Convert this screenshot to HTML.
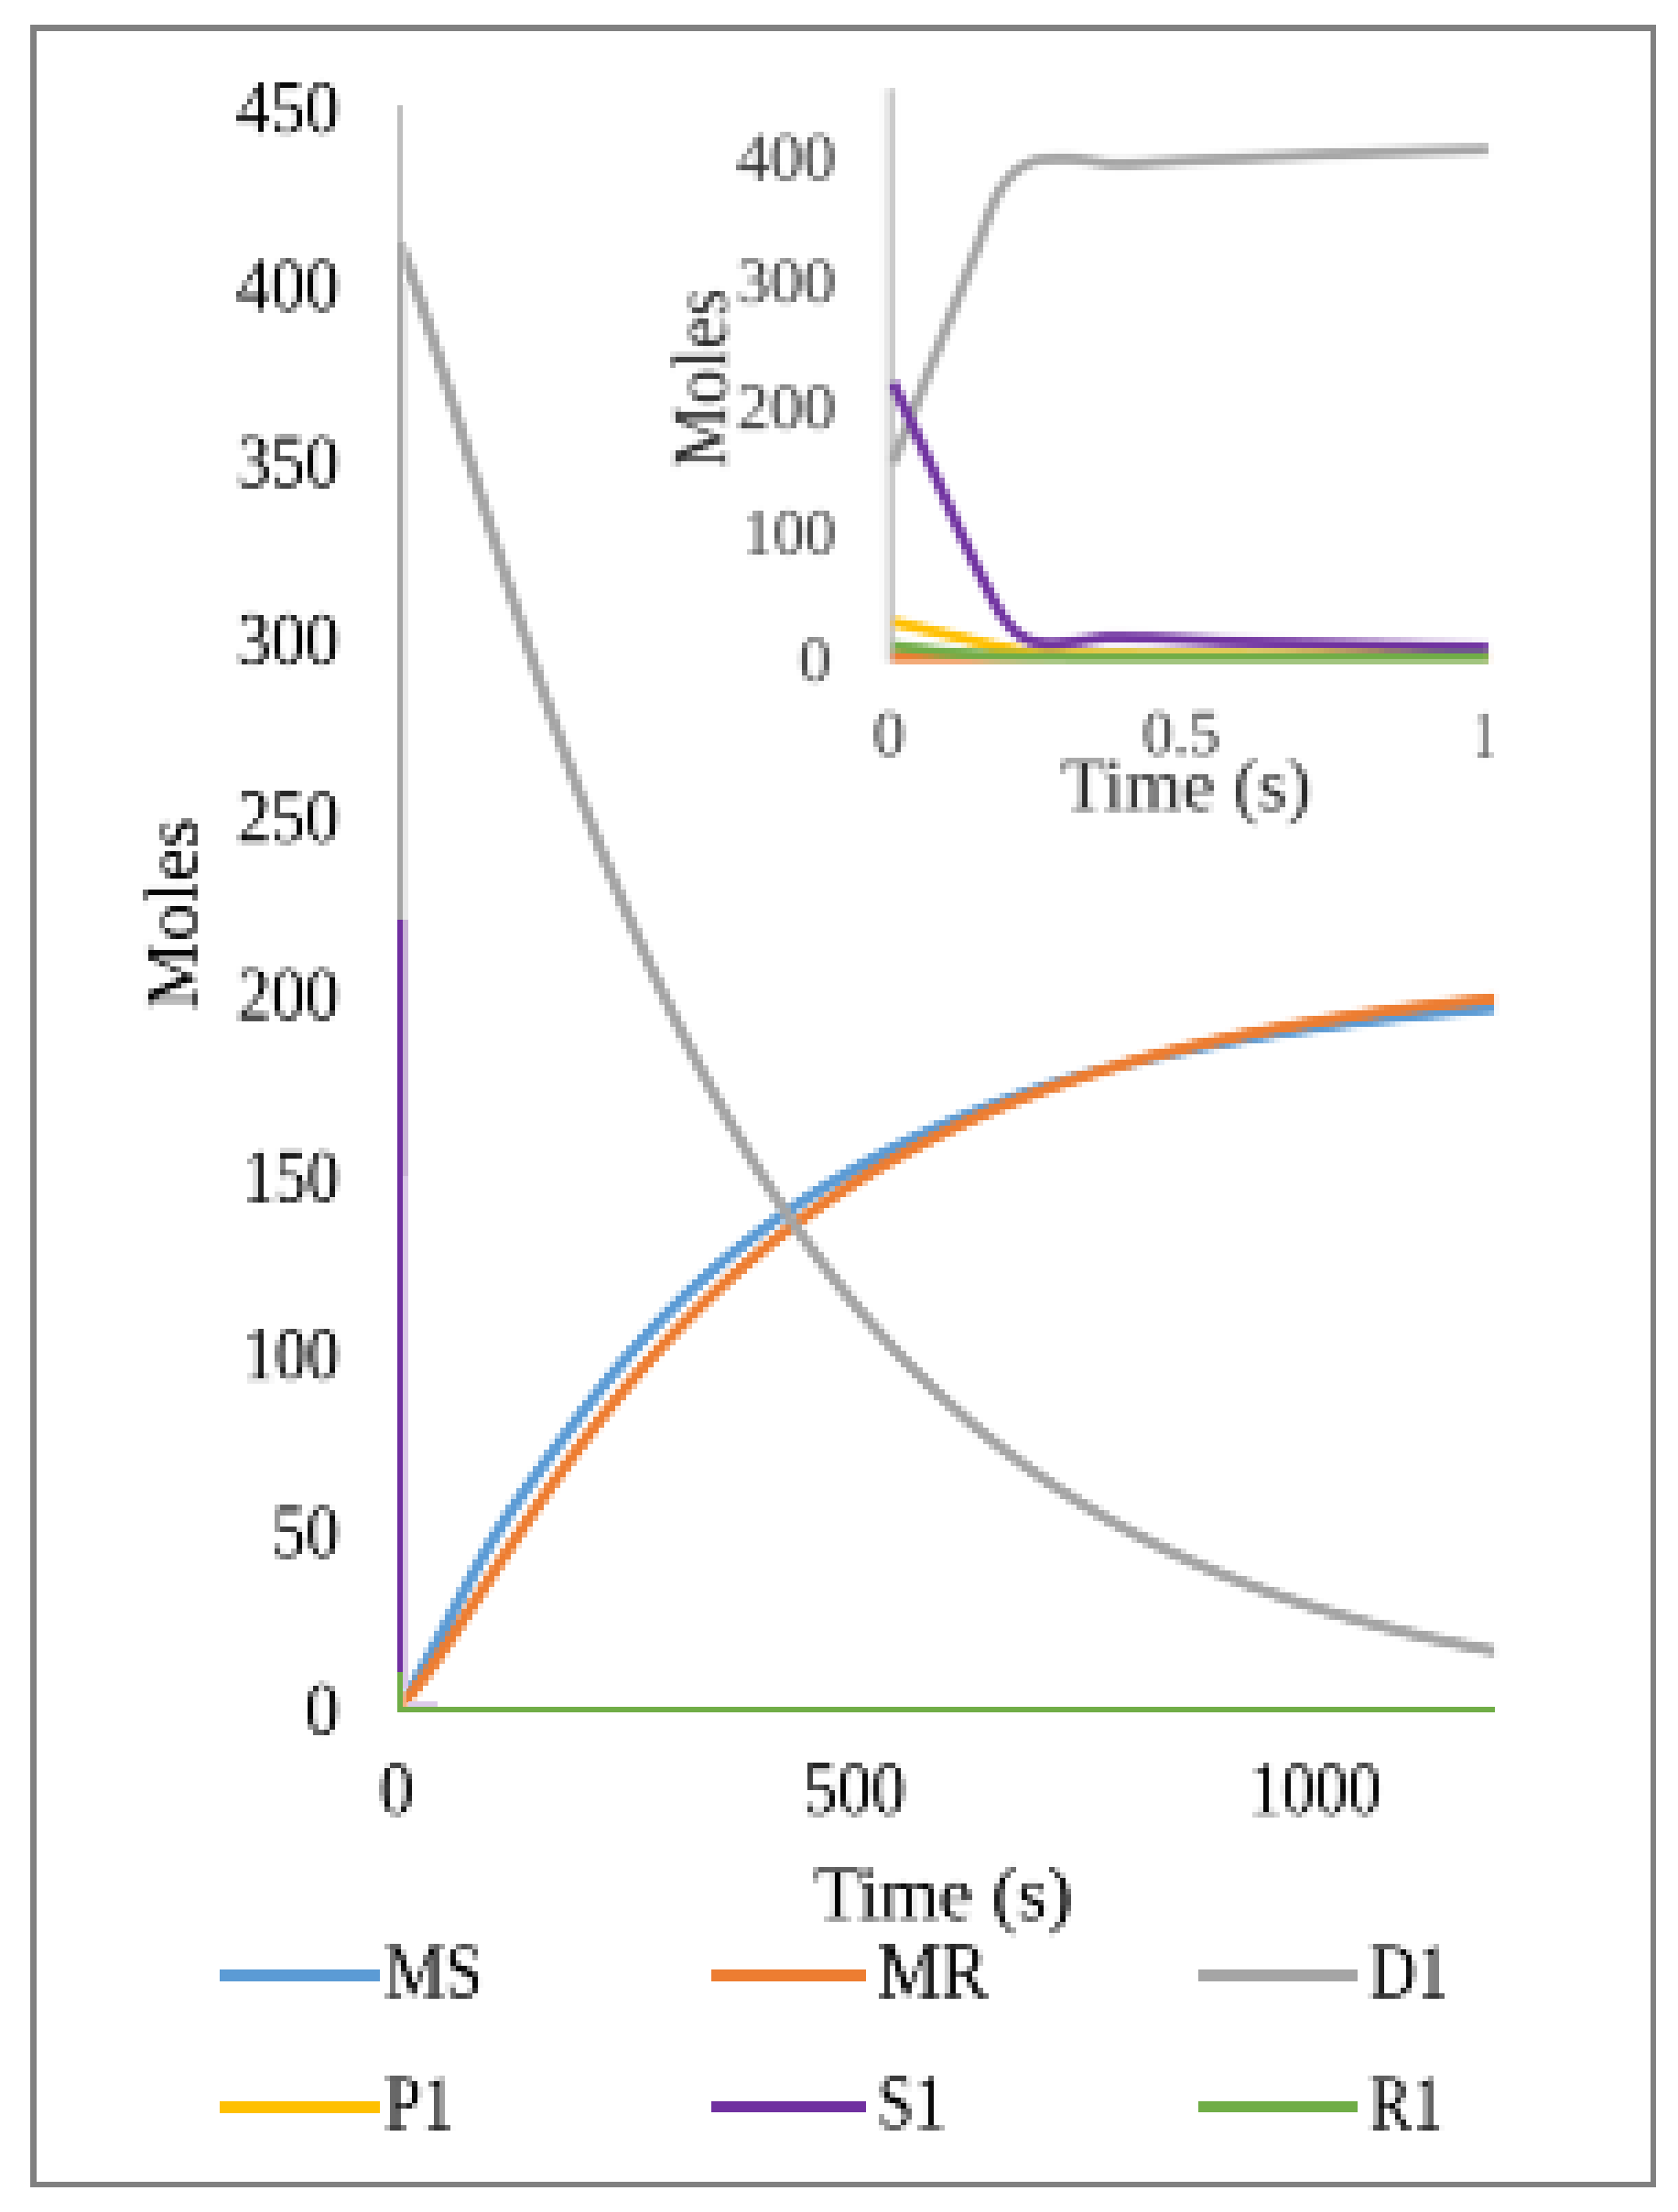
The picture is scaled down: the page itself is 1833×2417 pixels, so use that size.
<!DOCTYPE html>
<html lang="en"><head><meta charset="utf-8"><title>Moles vs Time</title>
<style>html,body{margin:0;padding:0;background:#fff}svg{display:block}</style></head>
<body>
<svg width="1833" height="2417" viewBox="0 0 1833 2417" font-family="'Liberation Serif', 'Times New Roman', serif">
<defs>
<filter id="b" x="-5%" y="-5%" width="110%" height="110%"><feGaussianBlur stdDeviation="1.0"/></filter>
<filter id="px" x="0" y="0" width="1833" height="2417" filterUnits="userSpaceOnUse" primitiveUnits="userSpaceOnUse" color-interpolation-filters="sRGB">
<feGaussianBlur in="SourceGraphic" stdDeviation="1.7" result="bl"/>
<feFlood x="3" y="3" width="1" height="1" flood-color="#000" result="dot"/>
<feComposite in="dot" in2="dot" operator="over" x="0" y="0" width="6" height="6" result="cell"/>
<feTile in="cell" x="0" y="0" width="1833" height="2417" result="grid"/>
<feComposite in="bl" in2="grid" operator="in" result="s0"/>
<feConvolveMatrix in="s0" order="6 1" kernelMatrix="1 1 1 1 1 1" divisor="1" targetX="2" targetY="0" edgeMode="none" preserveAlpha="false" result="h"/>
<feConvolveMatrix in="h" order="1 6" kernelMatrix="1 1 1 1 1 1" divisor="1" targetX="0" targetY="2" edgeMode="none" preserveAlpha="false"/>
</filter>
<clipPath id="cp"><rect x="441" y="100" width="1192.4" height="1775"/></clipPath>
</defs>
<rect width="1833" height="2417" fill="#fff"/>
<g id="c">
<rect width="1833" height="2417" fill="#fff"/>
<g fill="none" stroke-linejoin="round" clip-path="url(#cp)">
<path d="M439.0 1862.6 L446.5 1850.7 L454.0 1838.1 L461.6 1825.0 L469.1 1811.4 L476.6 1797.5 L484.1 1783.3 L491.7 1769.0 L499.2 1754.6 L506.7 1740.3 L514.2 1726.2 L521.8 1712.4 L529.3 1699.0 L536.8 1686.2 L544.3 1673.8 L551.9 1661.9 L559.4 1650.5 L566.9 1639.4 L574.4 1628.6 L582.0 1618.1 L589.5 1607.6 L597.0 1597.2 L604.5 1586.9 L612.1 1576.6 L619.6 1566.5 L627.1 1556.4 L634.6 1546.4 L642.2 1536.6 L649.7 1527.0 L657.2 1517.5 L664.7 1508.2 L672.3 1499.0 L679.8 1490.1 L687.3 1481.3 L694.8 1472.8 L702.4 1464.4 L709.9 1456.2 L717.4 1448.2 L724.9 1440.3 L732.5 1432.6 L740.0 1425.1 L747.5 1417.8 L755.0 1410.6 L762.6 1403.5 L770.1 1396.6 L777.6 1389.9 L785.1 1383.3 L792.7 1376.8 L800.2 1370.5 L807.7 1364.3 L815.2 1358.3 L822.8 1352.3 L830.3 1346.5 L837.8 1340.9 L845.3 1335.3 L852.8 1329.9 L860.4 1324.6 L867.9 1319.3 L875.4 1314.2 L882.9 1309.3 L890.5 1304.4 L898.0 1299.6 L905.5 1294.9 L913.0 1290.3 L920.6 1285.8 L928.1 1281.4 L935.6 1277.1 L943.1 1272.9 L950.7 1268.8 L958.2 1264.7 L965.7 1260.8 L973.2 1256.9 L980.8 1253.1 L988.3 1249.4 L995.8 1245.7 L1003.3 1242.2 L1010.9 1238.7 L1018.4 1235.3 L1025.9 1231.9 L1033.4 1228.6 L1041.0 1225.4 L1048.5 1222.3 L1056.0 1219.2 L1063.5 1216.2 L1071.1 1213.2 L1078.6 1210.3 L1086.1 1207.5 L1093.6 1204.7 L1101.2 1202.0 L1108.7 1199.3 L1116.2 1196.7 L1123.7 1194.2 L1131.3 1191.7 L1138.8 1189.2 L1146.3 1186.8 L1153.8 1184.4 L1161.4 1182.1 L1168.9 1179.9 L1176.4 1177.7 L1183.9 1175.5 L1191.5 1173.4 L1199.0 1171.3 L1206.5 1169.3 L1214.0 1167.3 L1221.6 1165.3 L1229.1 1163.4 L1236.6 1161.5 L1244.1 1159.7 L1251.6 1157.9 L1259.2 1156.1 L1266.7 1154.4 L1274.2 1152.7 L1281.7 1151.0 L1289.3 1149.4 L1296.8 1147.8 L1304.3 1146.3 L1311.8 1144.7 L1319.4 1143.2 L1326.9 1141.8 L1334.4 1140.3 L1341.9 1138.9 L1349.5 1137.6 L1357.0 1136.2 L1364.5 1134.9 L1372.0 1133.6 L1379.6 1132.3 L1387.1 1131.1 L1394.6 1129.9 L1402.1 1128.7 L1409.7 1127.5 L1417.2 1126.4 L1424.7 1125.3 L1432.2 1124.2 L1439.8 1123.1 L1447.3 1122.0 L1454.8 1121.0 L1462.3 1120.0 L1469.9 1119.0 L1477.4 1118.1 L1484.9 1117.1 L1492.4 1116.2 L1500.0 1115.3 L1507.5 1114.4 L1515.0 1113.5 L1522.5 1112.7 L1530.1 1111.8 L1537.6 1111.0 L1545.1 1110.2 L1552.6 1109.4 L1560.2 1108.7 L1567.7 1107.9 L1575.2 1107.2 L1582.7 1106.5 L1590.3 1105.8 L1597.8 1105.1 L1605.3 1104.4 L1612.8 1103.7 L1620.4 1103.1 L1627.9 1102.4 L1635.4 1101.8" stroke="#5b9bd5" stroke-width="12.5"/>
<path d="M439.0 1863.1 L446.5 1854.8 L454.0 1845.7 L461.6 1836.0 L469.1 1825.8 L476.6 1815.1 L484.1 1804.1 L491.7 1792.9 L499.2 1781.4 L506.7 1769.9 L514.2 1758.2 L521.8 1746.5 L529.3 1734.8 L536.8 1723.1 L544.3 1711.4 L551.9 1699.8 L559.4 1688.3 L566.9 1676.8 L574.4 1665.5 L582.0 1654.3 L589.5 1643.2 L597.0 1632.3 L604.5 1621.5 L612.1 1610.9 L619.6 1600.4 L627.1 1590.0 L634.6 1579.9 L642.2 1569.8 L649.7 1560.0 L657.2 1550.3 L664.7 1540.7 L672.3 1531.3 L679.8 1522.1 L687.3 1513.1 L694.8 1504.2 L702.4 1495.4 L709.9 1486.8 L717.4 1478.4 L724.9 1470.1 L732.5 1462.0 L740.0 1454.0 L747.5 1446.2 L755.0 1438.5 L762.6 1430.9 L770.1 1423.5 L777.6 1416.2 L785.1 1409.1 L792.7 1402.1 L800.2 1395.2 L807.7 1388.5 L815.2 1381.9 L822.8 1375.4 L830.3 1369.1 L837.8 1362.8 L845.3 1356.7 L852.8 1350.7 L860.4 1344.8 L867.9 1339.1 L875.4 1333.4 L882.9 1327.9 L890.5 1322.4 L898.0 1317.1 L905.5 1311.9 L913.0 1306.8 L920.6 1301.8 L928.1 1296.8 L935.6 1292.0 L943.1 1287.3 L950.7 1282.6 L958.2 1278.1 L965.7 1273.6 L973.2 1269.3 L980.8 1265.0 L988.3 1260.8 L995.8 1256.7 L1003.3 1252.7 L1010.9 1248.7 L1018.4 1244.8 L1025.9 1241.0 L1033.4 1237.3 L1041.0 1233.7 L1048.5 1230.1 L1056.0 1226.6 L1063.5 1223.2 L1071.1 1219.8 L1078.6 1216.5 L1086.1 1213.3 L1093.6 1210.1 L1101.2 1207.0 L1108.7 1204.0 L1116.2 1201.0 L1123.7 1198.1 L1131.3 1195.3 L1138.8 1192.5 L1146.3 1189.7 L1153.8 1187.0 L1161.4 1184.4 L1168.9 1181.8 L1176.4 1179.3 L1183.9 1176.8 L1191.5 1174.4 L1199.0 1172.0 L1206.5 1169.7 L1214.0 1167.4 L1221.6 1165.1 L1229.1 1162.9 L1236.6 1160.8 L1244.1 1158.7 L1251.6 1156.6 L1259.2 1154.6 L1266.7 1152.6 L1274.2 1150.7 L1281.7 1148.8 L1289.3 1146.9 L1296.8 1145.1 L1304.3 1143.3 L1311.8 1141.5 L1319.4 1139.8 L1326.9 1138.1 L1334.4 1136.5 L1341.9 1134.9 L1349.5 1133.3 L1357.0 1131.7 L1364.5 1130.2 L1372.0 1128.7 L1379.6 1127.3 L1387.1 1125.8 L1394.6 1124.4 L1402.1 1123.0 L1409.7 1121.7 L1417.2 1120.4 L1424.7 1119.1 L1432.2 1117.8 L1439.8 1116.6 L1447.3 1115.3 L1454.8 1114.2 L1462.3 1113.0 L1469.9 1111.8 L1477.4 1110.7 L1484.9 1109.6 L1492.4 1108.5 L1500.0 1107.5 L1507.5 1106.4 L1515.0 1105.4 L1522.5 1104.4 L1530.1 1103.4 L1537.6 1102.5 L1545.1 1101.5 L1552.6 1100.6 L1560.2 1099.7 L1567.7 1098.8 L1575.2 1098.0 L1582.7 1097.1 L1590.3 1096.3 L1597.8 1095.5 L1605.3 1094.7 L1612.8 1093.9 L1620.4 1093.1 L1627.9 1092.4 L1635.4 1091.6" stroke="#ed7d31" stroke-width="12.5"/>
<path d="M439 271.4 L438.5 269.4 L446.0 289.4 L453.5 310.7 L461.1 333.0 L468.6 356.1 L476.1 379.9 L483.6 404.1 L491.2 428.6 L498.7 453.3 L506.2 478.2 L513.7 503.1 L521.3 527.9 L528.8 552.6 L536.3 577.1 L543.8 601.4 L551.4 625.5 L558.9 649.3 L566.4 672.8 L573.9 696.0 L581.5 718.9 L589.0 741.5 L596.5 763.6 L604.0 785.4 L611.6 806.9 L619.1 828.0 L626.6 848.7 L634.1 869.1 L641.7 889.0 L649.2 908.6 L656.7 927.9 L664.2 946.8 L671.8 965.3 L679.3 983.5 L686.8 1001.3 L694.3 1018.8 L701.9 1035.9 L709.4 1052.7 L716.9 1069.2 L724.4 1085.3 L732.0 1101.1 L739.5 1116.7 L747.0 1131.9 L754.5 1146.8 L762.1 1161.4 L769.6 1175.7 L777.1 1189.7 L784.6 1203.4 L792.2 1216.9 L799.7 1230.1 L807.2 1243.0 L814.7 1255.7 L822.3 1268.1 L829.8 1280.3 L837.3 1292.2 L844.8 1303.9 L852.3 1315.3 L859.9 1326.5 L867.4 1337.5 L874.9 1348.3 L882.4 1358.8 L890.0 1369.2 L897.5 1379.3 L905.0 1389.2 L912.5 1398.9 L920.1 1408.5 L927.6 1417.8 L935.1 1426.9 L942.6 1435.9 L950.2 1444.7 L957.7 1453.3 L965.2 1461.7 L972.7 1470.0 L980.3 1478.1 L987.8 1486.0 L995.3 1493.8 L1002.8 1501.4 L1010.4 1508.8 L1017.9 1516.1 L1025.4 1523.3 L1032.9 1530.3 L1040.5 1537.2 L1048.0 1543.9 L1055.5 1550.5 L1063.0 1557.0 L1070.6 1563.3 L1078.1 1569.5 L1085.6 1575.6 L1093.1 1581.6 L1100.7 1587.4 L1108.2 1593.1 L1115.7 1598.7 L1123.2 1604.2 L1130.8 1609.6 L1138.3 1614.9 L1145.8 1620.0 L1153.3 1625.1 L1160.9 1630.1 L1168.4 1634.9 L1175.9 1639.7 L1183.4 1644.3 L1191.0 1648.9 L1198.5 1653.4 L1206.0 1657.8 L1213.5 1662.1 L1221.1 1666.3 L1228.6 1670.4 L1236.1 1674.5 L1243.6 1678.5 L1251.1 1682.3 L1258.7 1686.2 L1266.2 1689.9 L1273.7 1693.5 L1281.2 1697.1 L1288.8 1700.6 L1296.3 1704.1 L1303.8 1707.5 L1311.3 1710.8 L1318.9 1714.0 L1326.4 1717.2 L1333.9 1720.3 L1341.4 1723.3 L1349.0 1726.3 L1356.5 1729.2 L1364.0 1732.1 L1371.5 1734.9 L1379.1 1737.7 L1386.6 1740.4 L1394.1 1743.0 L1401.6 1745.6 L1409.2 1748.2 L1416.7 1750.7 L1424.2 1753.1 L1431.7 1755.5 L1439.3 1757.8 L1446.8 1760.1 L1454.3 1762.4 L1461.8 1764.6 L1469.4 1766.7 L1476.9 1768.9 L1484.4 1770.9 L1491.9 1773.0 L1499.5 1775.0 L1507.0 1776.9 L1514.5 1778.9 L1522.0 1780.7 L1529.6 1782.6 L1537.1 1784.4 L1544.6 1786.2 L1552.1 1787.9 L1559.7 1789.6 L1567.2 1791.3 L1574.7 1792.9 L1582.2 1794.5 L1589.8 1796.1 L1597.3 1797.6 L1604.8 1799.1 L1612.3 1800.6 L1619.9 1802.0 L1627.4 1803.5 L1634.9 1804.9" stroke="#a5a5a5" stroke-width="12.5"/>
</g>
<text transform="matrix(0.7513 0 0 0.8296 258.60 144.97)" font-size="100" fill="#000">450</text>
<text transform="matrix(0.7513 0 0 0.8296 258.60 338.67)" font-size="100" fill="#000">400</text>
<text transform="matrix(0.7487 0 0 0.8296 259.00 532.47)" font-size="100" fill="#000">350</text>
<text transform="matrix(0.7487 0 0 0.8296 259.00 725.97)" font-size="100" fill="#000">300</text>
<text transform="matrix(0.7487 0 0 0.8296 259.00 919.67)" font-size="100" fill="#000">250</text>
<text transform="matrix(0.7487 0 0 0.8296 259.00 1113.67)" font-size="100" fill="#000">200</text>
<text transform="matrix(0.7053 0 0 0.8296 265.50 1313.47)" font-size="100" fill="#000">150</text>
<text transform="matrix(0.7053 0 0 0.8296 265.50 1507.17)" font-size="100" fill="#000">100</text>
<text transform="matrix(0.7330 0 0 0.8296 298.00 1700.87)" font-size="100" fill="#000">50</text>
<text transform="matrix(0.7520 0 0 0.8296 333.70 1895.07)" font-size="100" fill="#000">0</text>
<text transform="matrix(0.7520 0 0 0.8296 415.00 1982.17)" font-size="100" fill="#000">0</text>
<text transform="matrix(0.7487 0 0 0.8296 877.70 1982.17)" font-size="100" fill="#000">500</text>
<text transform="matrix(0.7220 0 0 0.8296 1364.60 1982.17)" font-size="100" fill="#000">1000</text>
<text transform="matrix(0.8349 0 0 0.8275 889.90 2097.11)" font-size="100" fill="#000">Time (s)</text>
<text transform="matrix(0 -0.8400 0.7986 0 214.50 1104.00)" font-size="100" fill="#000">Moles</text>
<text transform="matrix(0.7363 0 0 0.8401 421.10 2182.66)" font-size="100" fill="#000">MS</text>
<text transform="matrix(0.7769 0 0 0.8565 959.00 2183.30)" font-size="100" fill="#000">MR</text>
<text transform="matrix(0.7108 0 0 0.8423 1496.50 2183.09)" font-size="100" fill="#000">D1</text>
<text transform="matrix(0.7194 0 0 0.8530 421.10 2327.10)" font-size="100" fill="#000">P1</text>
<text transform="matrix(0.7118 0 0 0.8416 959.00 2326.36)" font-size="100" fill="#000">S1</text>
<text transform="matrix(0.6921 0 0 0.8394 1496.50 2327.00)" font-size="100" fill="#000">R1</text>
<g filter="url(#b)">
<line x1="974.5" y1="98" x2="974.5" y2="724" stroke="#c3c3c3" stroke-width="6.3"/>
<line x1="968.2" y1="98" x2="968.2" y2="724" stroke="#ebebeb" stroke-width="6.3"/>
<g fill="none" stroke-linejoin="round">
<path d="M975 718.5 L1627 718.5" stroke="#ed7d31" stroke-width="11.5"/>
<path d="M975.8 506.7 L981.3 492.8 L986.7 478.9 L992.2 465.0 L997.7 451.1 L1003.1 437.2 L1008.6 423.3 L1014.0 409.4 L1019.5 395.5 L1025.0 381.6 L1030.4 367.6 L1035.9 353.7 L1041.4 339.7 L1046.8 325.8 L1052.3 311.8 L1057.8 297.8 L1063.2 283.8 L1068.7 269.5 L1074.1 253.9 L1079.6 238.3 L1085.1 224.0 L1090.5 212.2 L1096.0 203.6 L1101.5 196.4 L1106.9 190.4 L1112.4 185.7 L1117.9 182.0 L1123.3 179.2 L1128.8 177.1 L1134.3 175.5 L1139.7 174.9 L1145.2 174.5 L1150.6 174.3 L1156.1 174.1 L1161.6 174.0 L1167.0 174.0 L1172.5 174.3 L1178.0 174.7 L1183.4 175.4 L1188.9 176.1 L1194.4 176.9 L1199.8 177.7 L1205.3 178.4 L1210.7 179.0 L1216.2 179.4 L1221.7 179.5 L1227.1 179.5 L1232.6 179.4 L1238.1 179.2 L1243.5 179.0 L1249.0 178.7 L1254.5 178.4 L1259.9 178.1 L1265.4 177.8 L1270.8 177.5 L1276.3 177.2 L1281.8 176.9 L1287.2 176.6 L1292.7 176.4 L1298.2 176.1 L1303.6 175.9 L1309.1 175.6 L1314.6 175.4 L1320.0 175.1 L1325.5 174.9 L1331.0 174.6 L1336.4 174.4 L1341.9 174.1 L1347.3 173.9 L1352.8 173.6 L1358.3 173.4 L1363.7 173.1 L1369.2 172.9 L1374.7 172.6 L1380.1 172.4 L1385.6 172.1 L1391.1 171.9 L1396.5 171.6 L1402.0 171.4 L1407.4 171.2 L1412.9 170.9 L1418.4 170.7 L1423.8 170.5 L1429.3 170.2 L1434.8 170.0 L1440.2 169.8 L1445.7 169.6 L1451.2 169.3 L1456.6 169.1 L1462.1 168.9 L1467.5 168.7 L1473.0 168.5 L1478.5 168.3 L1483.9 168.1 L1489.4 167.9 L1494.9 167.7 L1500.3 167.5 L1505.8 167.3 L1511.3 167.1 L1516.7 167.0 L1522.2 166.8 L1527.7 166.6 L1533.1 166.4 L1538.6 166.3 L1544.0 166.1 L1549.5 165.9 L1555.0 165.8 L1560.4 165.6 L1565.9 165.5 L1571.4 165.3 L1576.8 165.2 L1582.3 165.0 L1587.8 164.9 L1593.2 164.8 L1598.7 164.6 L1604.1 164.5 L1609.6 164.4 L1615.1 164.2 L1620.5 164.1 L1626.0 164.0" stroke="#a5a5a5" stroke-width="11.5"/>
<path d="M975.8 680.0 L981.3 681.3 L986.7 682.6 L992.2 683.8 L997.7 685.1 L1003.1 686.4 L1008.6 687.7 L1014.0 688.9 L1019.5 690.2 L1025.0 691.5 L1030.4 692.8 L1035.9 694.0 L1041.4 695.3 L1046.8 696.6 L1052.3 697.9 L1057.8 699.3 L1063.2 700.6 L1068.7 702.0 L1074.1 703.3 L1079.6 704.6 L1085.1 705.8 L1090.5 707.1 L1096.0 708.2 L1101.5 709.3 L1106.9 710.5 L1112.4 711.7 L1117.9 712.9 L1123.3 713.9 L1128.8 714.6 L1134.3 715.0 L1139.7 715.1 L1145.2 715.1 L1150.6 715.2 L1156.1 715.3 L1161.6 715.3 L1167.0 715.4 L1172.5 715.4 L1178.0 715.5 L1183.4 715.5 L1188.9 715.6 L1194.4 715.6 L1199.8 715.7 L1205.3 715.7 L1210.7 715.7 L1216.2 715.7 L1221.7 715.8 L1227.1 715.8 L1232.6 715.8 L1238.1 715.8 L1243.5 715.9 L1249.0 715.9 L1254.5 715.9 L1259.9 715.9 L1265.4 715.9 L1270.8 715.9 L1276.3 715.9 L1281.8 716.0 L1287.2 716.0 L1292.7 716.0 L1298.2 716.0 L1303.6 716.0 L1309.1 716.0 L1314.6 716.0 L1320.0 716.1 L1325.5 716.1 L1331.0 716.1 L1336.4 716.1 L1341.9 716.1 L1347.3 716.1 L1352.8 716.1 L1358.3 716.1 L1363.7 716.2 L1369.2 716.2 L1374.7 716.2 L1380.1 716.2 L1385.6 716.2 L1391.1 716.2 L1396.5 716.2 L1402.0 716.2 L1407.4 716.3 L1412.9 716.3 L1418.4 716.3 L1423.8 716.3 L1429.3 716.3 L1434.8 716.3 L1440.2 716.3 L1445.7 716.3 L1451.2 716.3 L1456.6 716.3 L1462.1 716.4 L1467.5 716.4 L1473.0 716.4 L1478.5 716.4 L1483.9 716.4 L1489.4 716.4 L1494.9 716.4 L1500.3 716.4 L1505.8 716.4 L1511.3 716.4 L1516.7 716.4 L1522.2 716.4 L1527.7 716.4 L1533.1 716.5 L1538.6 716.5 L1544.0 716.5 L1549.5 716.5 L1555.0 716.5 L1560.4 716.5 L1565.9 716.5 L1571.4 716.5 L1576.8 716.5 L1582.3 716.5 L1587.8 716.5 L1593.2 716.5 L1598.7 716.5 L1604.1 716.5 L1609.6 716.5 L1615.1 716.5 L1620.5 716.5 L1626.0 716.5" stroke="#ffc000" stroke-width="11.5"/>
<path d="M975.8 418.5 L981.3 430.4 L986.7 442.2 L992.2 454.1 L997.7 466.0 L1003.1 477.9 L1008.6 489.9 L1014.0 501.9 L1019.5 514.2 L1025.0 526.5 L1030.4 539.0 L1035.9 551.5 L1041.4 563.9 L1046.8 576.2 L1052.3 588.3 L1057.8 600.2 L1063.2 611.8 L1068.7 623.1 L1074.1 633.9 L1079.6 644.7 L1085.1 655.4 L1090.5 665.5 L1096.0 674.5 L1101.5 681.8 L1106.9 688.1 L1112.4 693.2 L1117.9 696.7 L1123.3 699.6 L1128.8 701.6 L1134.3 702.7 L1139.7 703.5 L1145.2 704.0 L1150.6 703.9 L1156.1 703.7 L1161.6 703.3 L1167.0 702.8 L1172.5 702.1 L1178.0 701.3 L1183.4 700.4 L1188.9 699.6 L1194.4 698.9 L1199.8 698.2 L1205.3 697.5 L1210.7 697.1 L1216.2 697.0 L1221.7 697.0 L1227.1 697.1 L1232.6 697.2 L1238.1 697.3 L1243.5 697.4 L1249.0 697.5 L1254.5 697.6 L1259.9 697.8 L1265.4 698.0 L1270.8 698.2 L1276.3 698.4 L1281.8 698.7 L1287.2 698.9 L1292.7 699.2 L1298.2 699.4 L1303.6 699.7 L1309.1 699.9 L1314.6 700.2 L1320.0 700.5 L1325.5 700.8 L1331.0 701.1 L1336.4 701.4 L1341.9 701.6 L1347.3 701.8 L1352.8 701.9 L1358.3 702.1 L1363.7 702.3 L1369.2 702.5 L1374.7 702.6 L1380.1 702.8 L1385.6 702.9 L1391.1 703.1 L1396.5 703.2 L1402.0 703.3 L1407.4 703.5 L1412.9 703.6 L1418.4 703.7 L1423.8 703.9 L1429.3 704.0 L1434.8 704.1 L1440.2 704.2 L1445.7 704.3 L1451.2 704.5 L1456.6 704.6 L1462.1 704.7 L1467.5 704.8 L1473.0 704.9 L1478.5 705.0 L1483.9 705.2 L1489.4 705.3 L1494.9 705.4 L1500.3 705.5 L1505.8 705.6 L1511.3 705.7 L1516.7 705.9 L1522.2 706.0 L1527.7 706.1 L1533.1 706.2 L1538.6 706.3 L1544.0 706.4 L1549.5 706.5 L1555.0 706.7 L1560.4 706.8 L1565.9 706.9 L1571.4 707.0 L1576.8 707.1 L1582.3 707.2 L1587.8 707.3 L1593.2 707.4 L1598.7 707.5 L1604.1 707.6 L1609.6 707.7 L1615.1 707.8 L1620.5 707.9 L1626.0 708.0" stroke="#7030a0" stroke-width="11.5"/>
<path d="M975.8 706.0 L981.3 706.8 L986.7 707.6 L992.2 708.3 L997.7 709.0 L1003.1 709.7 L1008.6 710.3 L1014.0 711.0 L1019.5 711.6 L1025.0 712.2 L1030.4 712.7 L1035.9 713.3 L1041.4 713.8 L1046.8 714.3 L1052.3 714.7 L1057.8 715.1 L1063.2 715.5 L1068.7 715.9 L1074.1 716.3 L1079.6 716.7 L1085.1 717.0 L1090.5 717.2 L1096.0 717.4 L1101.5 717.5 L1106.9 717.6 L1112.4 717.7 L1117.9 717.8 L1123.3 717.9 L1128.8 718.0 L1134.3 718.0 L1139.7 718.1 L1145.2 718.2 L1150.6 718.2 L1156.1 718.3 L1161.6 718.3 L1167.0 718.4 L1172.5 718.4 L1178.0 718.4 L1183.4 718.5 L1188.9 718.5 L1194.4 718.5 L1199.8 718.5 L1205.3 718.5 L1210.7 718.5 L1216.2 718.5 L1221.7 718.5 L1227.1 718.5 L1232.6 718.5 L1238.1 718.5 L1243.5 718.5 L1249.0 718.5 L1254.5 718.5 L1259.9 718.5 L1265.4 718.5 L1270.8 718.5 L1276.3 718.5 L1281.8 718.5 L1287.2 718.5 L1292.7 718.5 L1298.2 718.5 L1303.6 718.5 L1309.1 718.5 L1314.6 718.5 L1320.0 718.5 L1325.5 718.5 L1331.0 718.5 L1336.4 718.5 L1341.9 718.5 L1347.3 718.5 L1352.8 718.5 L1358.3 718.5 L1363.7 718.5 L1369.2 718.5 L1374.7 718.5 L1380.1 718.5 L1385.6 718.5 L1391.1 718.5 L1396.5 718.5 L1402.0 718.5 L1407.4 718.5 L1412.9 718.5 L1418.4 718.5 L1423.8 718.5 L1429.3 718.5 L1434.8 718.5 L1440.2 718.5 L1445.7 718.5 L1451.2 718.5 L1456.6 718.5 L1462.1 718.5 L1467.5 718.5 L1473.0 718.5 L1478.5 718.5 L1483.9 718.5 L1489.4 718.5 L1494.9 718.5 L1500.3 718.5 L1505.8 718.5 L1511.3 718.5 L1516.7 718.5 L1522.2 718.5 L1527.7 718.5 L1533.1 718.5 L1538.6 718.5 L1544.0 718.5 L1549.5 718.5 L1555.0 718.5 L1560.4 718.5 L1565.9 718.5 L1571.4 718.5 L1576.8 718.5 L1582.3 718.5 L1587.8 718.5 L1593.2 718.5 L1598.7 718.5 L1604.1 718.5 L1609.6 718.5 L1615.1 718.5 L1620.5 718.5 L1626.0 718.5" stroke="#70ad47" stroke-width="11.5"/>
</g>
<text transform="matrix(0.7233 0 0 0.7333 805.00 197.27)" font-size="100" fill="#383838">400</text>
<text transform="matrix(0.7233 0 0 0.6963 805.00 331.30)" font-size="100" fill="#383838">300</text>
<text transform="matrix(0.7233 0 0 0.7111 805.00 469.29)" font-size="100" fill="#383838">200</text>
<text transform="matrix(0.6833 0 0 0.7259 811.00 606.27)" font-size="100" fill="#383838">100</text>
<text transform="matrix(0.7100 0 0 0.7185 873.00 744.78)" font-size="100" fill="#383838">0</text>
<text transform="matrix(0.7100 0 0 0.7111 954.00 825.79)" font-size="100" fill="#383838">0</text>
<text transform="matrix(0.6760 0 0 0.7059 1248.50 825.44)" font-size="100" fill="#383838">0.5</text>
<text transform="matrix(0.4600 0 0 0.7273 1610.00 826.50)" font-size="100" fill="#383838">1</text>
<text transform="matrix(0.8077 0 0 0.8044 1160.00 884.91)" font-size="100" fill="#222">Time (s)</text>
<text transform="matrix(0 -0.7880 0.8369 0 794.16 513.00)" font-size="100" fill="#222">Moles</text>
</g>
</g>
<use href="#c" filter="url(#px)"/>
<g shape-rendering="crispEdges">
<rect x="36.3" y="30.3" width="1769.5" height="2356.5" fill="none" stroke="#808080" stroke-width="6.5"/>
<rect x="433.9" y="115.0" width="6.3" height="150.4" fill="#bfbfbf"/>
<rect x="433.9" y="265.4" width="6.3" height="739.1" fill="#a5a5a5"/>
<rect x="440.1" y="309.4" width="6.3" height="695.1" fill="#e8e8e8"/>
<rect x="433.9" y="1004.5" width="6.3" height="822.5" fill="#7030a0"/>
<rect x="440.1" y="1004.5" width="6.3" height="280.0" fill="#c9b3d6"/>
<rect x="440.1" y="1284.6" width="6.3" height="560.0" fill="#d9c7e6"/>
<rect x="446" y="1859.1" width="32" height="6" fill="#dccbea"/>
<rect x="433.9" y="1827.1" width="6.3" height="43.9" fill="#70ad47"/>
<rect x="433.9" y="1864.8" width="1199.5" height="6.3" fill="#70ad47"/>
<rect x="239.6" y="2152.0" width="175.7" height="12.8" fill="#5b9bd5"/>
<rect x="777.2" y="2152.0" width="169.0" height="12.8" fill="#ed7d31"/>
<rect x="1308.8" y="2151.8" width="174.5" height="12.8" fill="#a5a5a5"/>
<rect x="239.6" y="2295.8" width="175.7" height="12.8" fill="#ffc000"/>
<rect x="777.2" y="2295.6" width="169.0" height="12.8" fill="#7030a0"/>
<rect x="1308.8" y="2295.6" width="174.5" height="12.8" fill="#70ad47"/>
</g>
</svg>
</body></html>
